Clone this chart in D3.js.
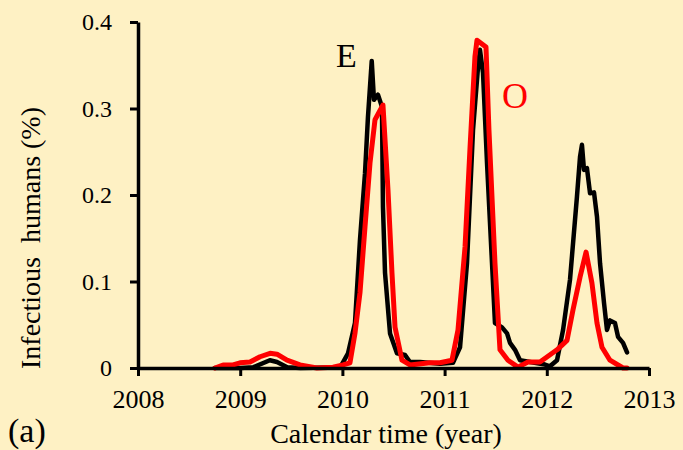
<!DOCTYPE html>
<html>
<head>
<meta charset="utf-8">
<script src="https://cdn.jsdelivr.net/npm/d3@7"></script>
<style>
  html, body { margin: 0; padding: 0; background: #FEF1C4; }
  svg { display: block; }
</style>
</head>
<body>
<svg id="chart" width="683" height="450"></svg>
<script>
const FONT = "'Liberation Serif', Tinos, 'Times New Roman', Times, 'DejaVu Serif', serif";

// ---- data ----
const xTicks = [2008, 2009, 2010, 2011, 2012, 2013];
const yTicks = [0, 0.1, 0.2, 0.3, 0.4];
const yTickLabels = ["0", "0.1", "0.2", "0.3", "0.4"];

// E series (black): [year, infectious %]
const seriesE = [
  [2008.75, 0.000], [2009.00, 0.000], [2009.13, 0.001], [2009.29, 0.009],
  [2009.36, 0.007], [2009.46, 0.001], [2009.59, 0.000], [2009.98, 0.001],
  [2010.055, 0.017], [2010.123, 0.052], [2010.172, 0.148], [2010.221, 0.225],
  [2010.250, 0.290], [2010.287, 0.355], [2010.309, 0.310], [2010.348, 0.316],
  [2010.387, 0.302], [2010.397, 0.186], [2010.417, 0.110], [2010.466, 0.040],
  [2010.534, 0.017], [2010.613, 0.015], [2010.661, 0.007], [2010.759, 0.007],
  [2010.955, 0.005], [2011.082, 0.006], [2011.151, 0.024], [2011.219, 0.121],
  [2011.278, 0.275], [2011.327, 0.348], [2011.346, 0.368], [2011.376, 0.341],
  [2011.415, 0.237], [2011.464, 0.121], [2011.493, 0.052], [2011.562, 0.047],
  [2011.611, 0.040], [2011.640, 0.029], [2011.689, 0.021], [2011.738, 0.009],
  [2011.836, 0.007], [2011.982, 0.004], [2012.031, 0.002], [2012.100, 0.009],
  [2012.159, 0.044], [2012.227, 0.102], [2012.295, 0.198], [2012.325, 0.244],
  [2012.344, 0.258], [2012.364, 0.229], [2012.393, 0.231], [2012.423, 0.202],
  [2012.462, 0.203], [2012.491, 0.175], [2012.521, 0.121], [2012.560, 0.075],
  [2012.589, 0.044], [2012.618, 0.055], [2012.667, 0.052], [2012.697, 0.036],
  [2012.746, 0.029], [2012.785, 0.018]
];

// O series (red): [year, infectious %]
const seriesO = [
  [2008.753, 0.000], [2008.832, 0.0035], [2008.930, 0.0035], [2008.998, 0.006],
  [2009.096, 0.007], [2009.194, 0.013], [2009.292, 0.017], [2009.360, 0.016],
  [2009.458, 0.009], [2009.585, 0.0035], [2009.751, 0.000], [2009.908, 0.001],
  [2010.006, 0.0035], [2010.074, 0.006], [2010.123, 0.040], [2010.172, 0.087],
  [2010.221, 0.163], [2010.270, 0.237], [2010.319, 0.287], [2010.397, 0.304],
  [2010.446, 0.206], [2010.485, 0.110], [2010.515, 0.047], [2010.583, 0.009],
  [2010.661, 0.0035], [2010.857, 0.006], [2010.955, 0.006], [2011.072, 0.009],
  [2011.131, 0.044], [2011.200, 0.140], [2011.249, 0.255], [2011.297, 0.360],
  [2011.317, 0.379], [2011.405, 0.371], [2011.434, 0.275], [2011.493, 0.121],
  [2011.542, 0.021], [2011.620, 0.009], [2011.718, 0.001], [2011.816, 0.007],
  [2011.933, 0.007], [2012.100, 0.021], [2012.198, 0.032], [2012.256, 0.067],
  [2012.325, 0.105], [2012.384, 0.134], [2012.442, 0.098], [2012.491, 0.052],
  [2012.540, 0.024], [2012.618, 0.009], [2012.746, 0.000], [2012.785, 0.000]
];

// ---- drawing ----
const svg = d3.select("#chart");
const x = d3.scaleLinear().domain([2008, 2013]).range([138, 649]);
const y = d3.scaleLinear().domain([0, 0.4]).range([368, 22]);

const line = d3.line().x(d => x(d[0])).y(d => y(d[1])).curve(d3.curveLinear);

svg.append("path").datum(seriesE)
  .attr("d", line).attr("fill", "none")
  .attr("stroke", "#000").attr("stroke-width", 4.5)
  .attr("stroke-linejoin", "round").attr("stroke-linecap", "round");

svg.append("path").datum(seriesO)
  .attr("d", line).attr("fill", "none")
  .attr("stroke", "#FF0000").attr("stroke-width", 5)
  .attr("stroke-linejoin", "round").attr("stroke-linecap", "round");

// axes
const xAxis = d3.axisBottom(x).tickValues(xTicks).tickFormat(d3.format("d"))
  .tickSizeOuter(0).tickSizeInner(8).tickPadding(14);
const gx = svg.append("g").attr("transform", `translate(0,${y(0)})`).call(xAxis);
gx.attr("font-family", FONT).attr("font-size", 26);
gx.select(".domain").attr("stroke", "#000").attr("stroke-width", 3.5);
gx.selectAll(".tick line").attr("stroke", "#000").attr("stroke-width", 3);
gx.selectAll(".tick text").attr("fill", "#000");

const yAxis = d3.axisLeft(y).tickValues(yTicks)
  .tickFormat((d, i) => yTickLabels[i])
  .tickSizeOuter(0).tickSizeInner(8).tickPadding(18);
const gy = svg.append("g").attr("transform", `translate(${x(2008)},0)`).call(yAxis);
gy.attr("font-family", FONT).attr("font-size", 24);
gy.select(".domain").attr("stroke", "#000").attr("stroke-width", 3.5);
gy.selectAll(".tick line").attr("stroke", "#000").attr("stroke-width", 3);
gy.selectAll(".tick text").attr("fill", "#000");

// axis titles
svg.append("text").attr("x", 386).attr("y", 443)
  .attr("font-family", FONT)
  .attr("text-anchor", "middle").attr("font-size", 28)
  .text("Calendar time (year)");

svg.append("text")
  .attr("transform", "translate(40,238) rotate(-90)")
  .attr("font-family", FONT)
  .attr("text-anchor", "middle").attr("font-size", 28)
  .style("white-space", "pre")
  .text("Infectious  humans (%)");

svg.append("text").attr("x", 8).attr("y", 442)
  .attr("font-family", FONT)
  .attr("font-size", 34).text("(a)");

// series labels
svg.append("text").attr("x", 336).attr("y", 67)
  .attr("font-family", FONT)
  .attr("font-size", 34).attr("fill", "#000").text("E");
svg.append("text").attr("x", 502).attr("y", 108)
  .attr("font-family", FONT)
  .attr("font-size", 36).attr("fill", "#FF0000").text("O");
</script>
</body>
</html>
